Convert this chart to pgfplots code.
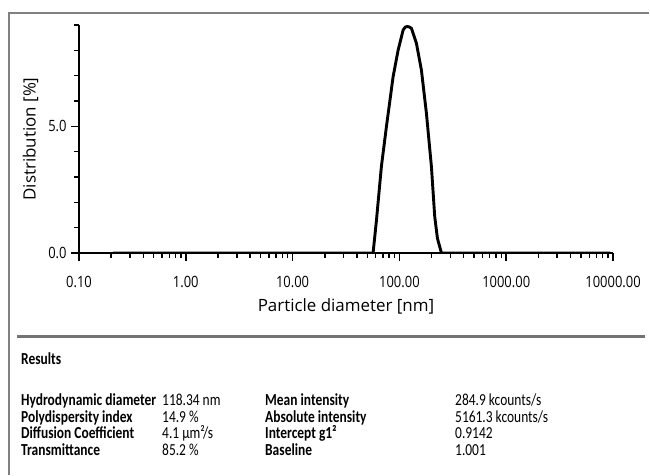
\documentclass[border=0pt]{standalone}
\usepackage{fontspec}
\usepackage{graphicx}
\setmainfont{Carlito}
\newfontfamily\axisfont{Open Sans}
\usepackage{pgfplots}
\pgfplotsset{compat=1.18}
\newcommand{\T}[1]{\scalebox{1}[1.25]{#1}}
\newcommand{\K}[1]{\scalebox{1}[1.2]{#1}}
\begin{document}
\begin{tikzpicture}[x=1bp,y=1bp]
\path (0,0) rectangle (650,475);
\draw[black!50, line width=1.2bp] (9,0) -- (9,462) -- (649.4,462);
\begin{axis}[
  at={(79bp,222bp)}, anchor=south west,
  scale only axis, width=534bp, height=228bp,
  xmode=log, xmin=0.1, xmax=10000, ymin=0, ymax=9,
  axis lines=left, axis line style={-, line width=2.1bp},
  xtick={0.1,1,10,100,1000,10000},
  xticklabels={\K{0.10},\K{1.00},\K{10.00},\K{100.00},\K{1000.00},\K{10000.00}},
  minor xtick={0.2,0.3,0.4,0.5,0.6,0.7,0.8,0.9,2,3,4,5,6,7,8,9,20,30,40,50,60,70,80,90,200,300,400,500,600,700,800,900,2000,3000,4000,5000,6000,7000,8000,9000},
  ytick={0,5}, yticklabels={\K{0.0},\K{5.0}},
  minor ytick={1,2,3,4,6,7,8,9},
  tick align=outside, major tick length=8bp, minor tick length=5bp,
  every tick/.style={black, line width=1.5bp},
  ticklabel style={font=\axisfont\fontsize{13}{13}\selectfont},
  xticklabel style={yshift=-12bp},
  yticklabel style={xshift=-1bp},
  xlabel={Particle diameter [nm]}, ylabel={Distribution [\%]},
  label style={font=\axisfont\fontsize{17}{17}\selectfont},
  xlabel style={at={(axis description cs:0.5,-0.2588)}, anchor=base},
  ylabel style={at={(axis description cs:-0.0908,0.5)}, anchor=center},
]
\addplot[black, line width=2.9bp, line join=round] coordinates {
(0.208,0) (56.7,0) (61.0,1.30) (67.8,3.41) (75.6,4.99) (87.3,6.96) (97.3,8.01) (108.3,8.80) (113.5,8.92) (118.9,8.94) (124,8.92) (129.5,8.87) (144.3,8.28) (160.7,7.22) (179.0,5.52) (199.4,3.41) (214.2,1.43) (227.0,0.58) (247.4,0) (9400,0)
};
\end{axis}
\draw[line width=3bp, black!55] (17,138) -- (645,138);
\begin{scope}[every node/.style={anchor=base west, inner sep=0pt, font=\fontsize{13.5}{13.5}\selectfont}]
\node[font=\bfseries\fontsize{13.5}{13.5}\selectfont] at (21,110) {\T{Results}};
\node[font=\bfseries\fontsize{13.5}{13.5}\selectfont] at (21,69) {\T{Hydrodynamic diameter}};
\node[font=\bfseries\fontsize{13.5}{13.5}\selectfont] at (21,52.5) {\T{Polydispersity index}};
\node[font=\bfseries\fontsize{13.5}{13.5}\selectfont] at (21,36) {\T{Diffusion Coefficient}};
\node[font=\bfseries\fontsize{13.5}{13.5}\selectfont] at (21,19.5) {\T{Transmittance}};
\node at (162,69) {\T{118.34 nm}};
\node at (162,52.5) {\T{14.9 \%}};
\node at (162,36) {\T{4.1 µm²/s}};
\node at (162,19.5) {\T{85.2 \%}};
\node[font=\bfseries\fontsize{13.5}{13.5}\selectfont] at (265,69) {\T{Mean intensity}};
\node[font=\bfseries\fontsize{13.5}{13.5}\selectfont] at (265,52.5) {\T{Absolute intensity}};
\node[font=\bfseries\fontsize{13.5}{13.5}\selectfont] at (265,36) {\T{Intercept g1²}};
\node[font=\bfseries\fontsize{13.5}{13.5}\selectfont] at (265,19.5) {\T{Baseline}};
\node at (455,69) {\T{284.9 kcounts/s}};
\node at (455,52.5) {\T{5161.3 kcounts/s}};
\node at (455,36) {\T{0.9142}};
\node at (455,19.5) {\T{1.001}};
\end{scope}
\end{tikzpicture}
\end{document}
